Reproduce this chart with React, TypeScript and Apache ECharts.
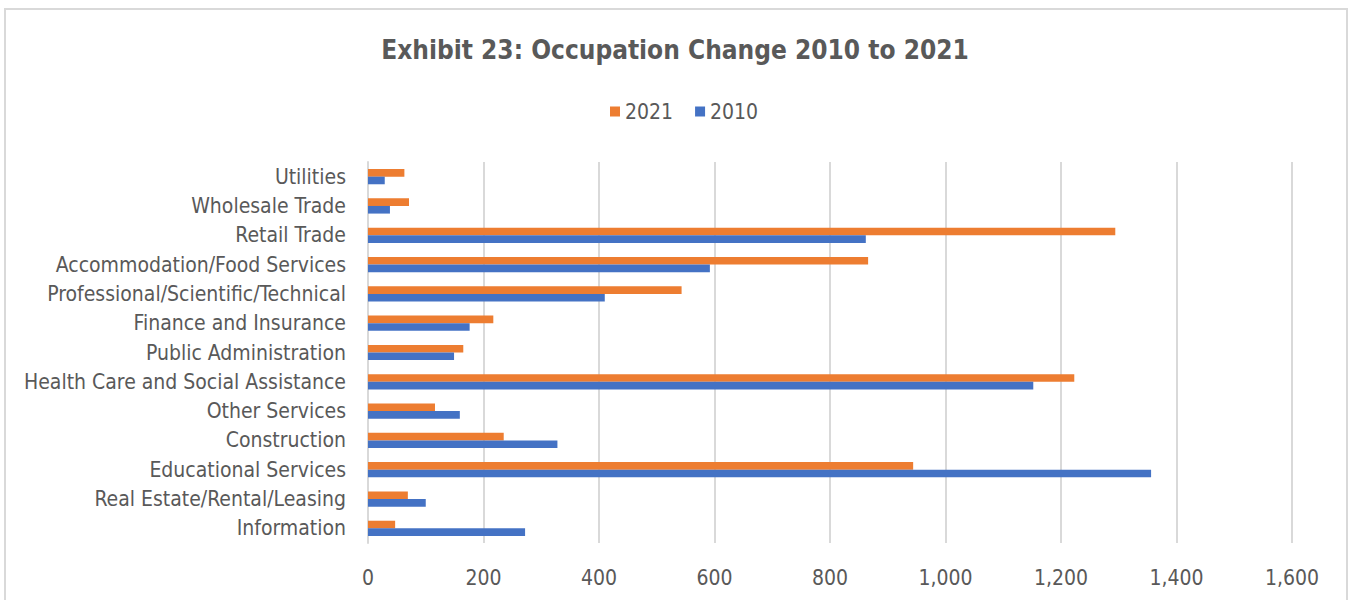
import React, { useEffect, useRef } from "react";
import * as echarts from "echarts";

const categories = [
  "Information",
  "Real Estate/Rental/Leasing",
  "Educational Services",
  "Construction",
  "Other Services",
  "Health Care and Social Assistance",
  "Public Administration",
  "Finance and Insurance",
  "Professional/Scientific/Technical",
  "Accommodation/Food Services",
  "Retail Trade",
  "Wholesale Trade",
  "Utilities",
];

const values2021 = [47, 69, 944, 235, 116, 1223, 165, 217, 543, 866, 1294, 71, 63];
const values2010 = [272, 100, 1356, 328, 159, 1152, 149, 176, 410, 592, 862, 38, 29];

const xTicks = { min: 0, max: 1600, interval: 200 };

const FONT = "'Liberation Sans Narrow', 'DejaVu Sans Condensed', 'Arial Narrow', sans-serif";
const TEXT = "#595959";

export default function App() {
  const ref = useRef<HTMLDivElement>(null);

  useEffect(() => {
    if (!ref.current) return;
    const chart = echarts.init(ref.current, undefined, { renderer: "svg" });
    chart.setOption({
      animation: false,
      backgroundColor: "#fff",
      title: {
        text: "Exhibit 23: Occupation Change 2010 to 2021",
        left: "center",
        top: 32,
        textStyle: { fontFamily: FONT, fontSize: 26, fontWeight: "bold", color: TEXT },
      },
      legend: {
        top: 96,
        left: 605,
        itemWidth: 10,
        itemHeight: 10,
        itemGap: 22,
        icon: "rect",
        textStyle: { fontFamily: FONT, fontSize: 21, color: TEXT },
        data: ["2021", "2010"],
      },
      graphic: [
        {
          type: "rect",
          shape: { x: 5, y: 9, width: 1342, height: 600 },
          style: { fill: "none", stroke: "#d9d9d9", lineWidth: 2 },
          silent: true,
        },
      ],
      grid: { left: 368, right: 58, top: 162, bottom: 57, containLabel: false },
      xAxis: {
        type: "value",
        min: xTicks.min,
        max: xTicks.max,
        interval: xTicks.interval,
        axisLine: { show: false },
        axisTick: { show: false },
        splitLine: { show: true, lineStyle: { color: "#d9d9d9", width: 2 } },
        axisLabel: {
          fontFamily: FONT,
          fontSize: 21,
          color: TEXT,
          margin: 24,
          formatter: (v: number) => v.toLocaleString("en-US"),
        },
      },
      yAxis: {
        type: "category",
        data: categories,
        axisLine: { show: true, lineStyle: { color: "#d9d9d9", width: 2 } },
        axisTick: { show: false },
        axisLabel: { fontFamily: FONT, fontSize: 21, color: TEXT, margin: 22 },
      },
      series: [
        {
          name: "2021",
          type: "bar",
          data: values2021,
          itemStyle: { color: "#ED7D31" },
          barGap: "0%",
          barCategoryGap: "48%",
        },
        {
          name: "2010",
          type: "bar",
          data: values2010,
          itemStyle: { color: "#4472C4" },
          barGap: "0%",
          barCategoryGap: "48%",
        },
      ],
    });
    return () => chart.dispose();
  }, []);

  return (
    <div
      ref={ref}
      style={{ width: 1350, height: 600, position: "fixed", left: 0, top: 0 }}
    />
  );
}
